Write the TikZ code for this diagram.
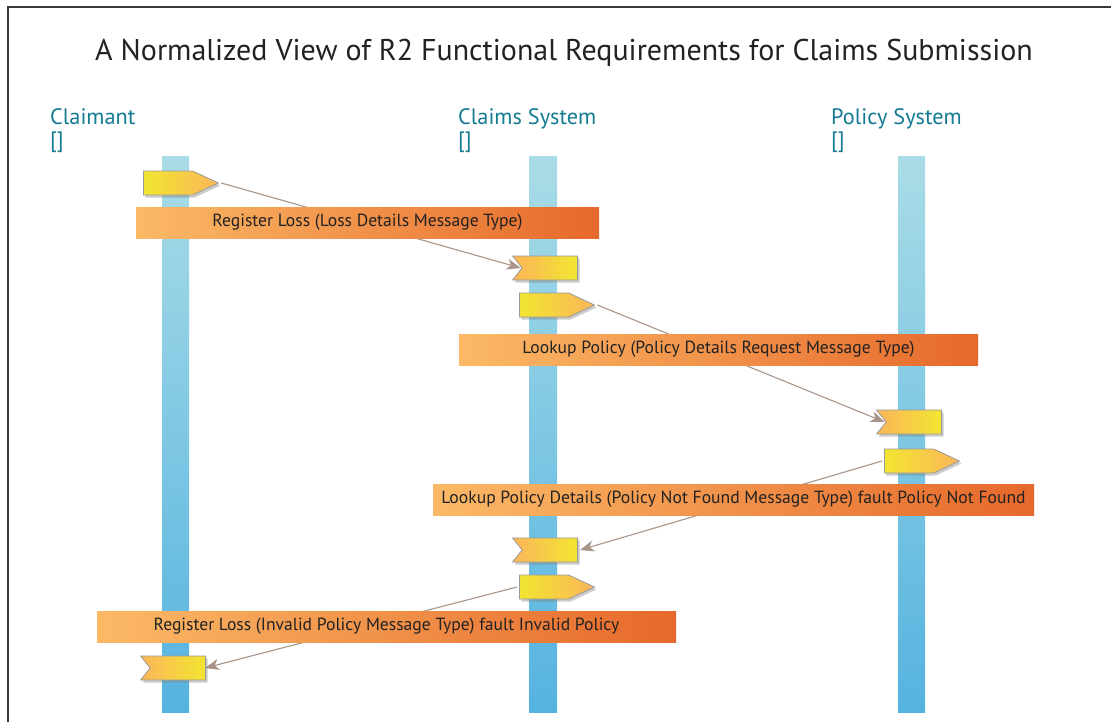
\documentclass[tikz,border=0pt]{standalone}
\usepackage{fontspec}
\setmainfont{PT Sans}
\usetikzlibrary{shapes.symbols,shadows,arrows.meta}
\definecolor{frameC}{HTML}{3A3A3A}
\definecolor{barTop}{HTML}{A9DCE6}
\definecolor{barBot}{HTML}{55B3E0}
\definecolor{partC}{HTML}{137A92}
\definecolor{msgL}{HTML}{FBB966}
\definecolor{msgR}{HTML}{E6692C}
\definecolor{yel}{HTML}{F2E630}
\definecolor{org}{HTML}{FBB55A}
\definecolor{lineC}{HTML}{A89488}
\definecolor{txtC}{HTML}{222222}
\pgfdeclarelayer{bg}
\pgfdeclarelayer{wires}
\pgfsetlayers{bg,wires,main}
\begin{document}
\begin{tikzpicture}[x=1pt,y=-1pt,
  lifeline/.style={top color=barTop,bottom color=barBot,draw=none},
  part/.style={text=partC,font=\fontsize{22.3}{23}\selectfont,align=left,inner sep=0pt,anchor=base west},
  msgbar/.style={rectangle,left color=msgL,right color=msgR,draw=none,minimum height=31pt,
    inner sep=0pt,text=txtC,font=\fontsize{17.6}{20}\selectfont},
  tokenbase/.style={signal,draw=black!40,line width=0.8pt,inner sep=0pt,minimum height=24pt,
    drop shadow={opacity=0.4,shadow xshift=2pt,shadow yshift=-2.5pt}},
  sendtok/.style={tokenbase,signal to=east,signal from=nowhere,signal pointer angle=50,
    minimum width=75pt,left color=yel,right color=org,anchor=west},
  recvtok/.style={tokenbase,signal to=nowhere,signal from=west,signal pointer angle=103,
    minimum width=65pt,left color=org,right color=yel,anchor=east},
  wire/.style={draw=lineC,line width=1.1pt,-{Stealth[length=14pt,width=11pt,inset=4pt]}}
]
\useasboundingbox (0,0) rectangle (1111,721);

% outer frame
\draw[frameC,line width=1.4pt] (8,730) -- (8,7) -- (1120,7);

% title
\node[anchor=base,text=txtC,font=\fontsize{30}{34}\selectfont,inner sep=0pt] (title) at (564,60)
  {A Normalized View of R2 Functional Requirements for Claims Submission};

% participants
\node[part] (pClaimant) at (50,147) {Claimant\\{[]}};
\node[part] (pClaims) at (458,147) {Claims System\\{[]}};
\node[part] (pPolicy) at (831,147) {Policy System\\{[]}};

% lifelines
\begin{pgfonlayer}{bg}
\shade[lifeline] (162,156) rectangle (189,712);
\shade[lifeline] (529,156) rectangle (557,712);
\shade[lifeline] (898,156) rectangle (925,712);
\end{pgfonlayer}

% message labels
\node[msgbar,minimum width=463pt] (m1) at (367.5,222.5) {Register Loss (Loss Details Message Type)};
\node[msgbar,minimum width=519pt] (m2) at (718.5,349.5) {Lookup Policy (Policy Details Request Message Type)};
\node[msgbar,minimum width=601pt] (m3) at (733.5,499.5) {Lookup Policy Details (Policy Not Found Message Type) fault Policy Not Found};
\node[msgbar,minimum width=579pt] (m4) at (386.5,626.5) {Register Loss (Invalid Policy Message Type) fault Invalid Policy};

% send and receive tokens
\node[sendtok] (s1) at (143,183) {};
\node[recvtok] (r1) at (578,268) {};
\node[sendtok] (s2) at (519,305) {};
\node[recvtok] (r2) at (942,422) {};
\node[sendtok] (s3) at (884,461) {};
\node[recvtok] (r3) at (578,550) {};
\node[sendtok] (s4) at (519,587) {};
\node[recvtok] (r4) at (206,668) {};

% message connectors
\begin{pgfonlayer}{wires}
\draw[wire] ([xshift=2pt]s1.east) -- ([xshift=-1pt]r1.west);
\draw[wire] ([xshift=2pt]s2.east) -- ([xshift=-1pt]r2.west);
\draw[wire] ([xshift=-2pt]s3.west) -- ([xshift=2pt]r3.east);
\draw[wire] ([xshift=-2pt]s4.west) -- ([xshift=-1pt]r4.east);
\end{pgfonlayer}
\end{tikzpicture}
\end{document}
